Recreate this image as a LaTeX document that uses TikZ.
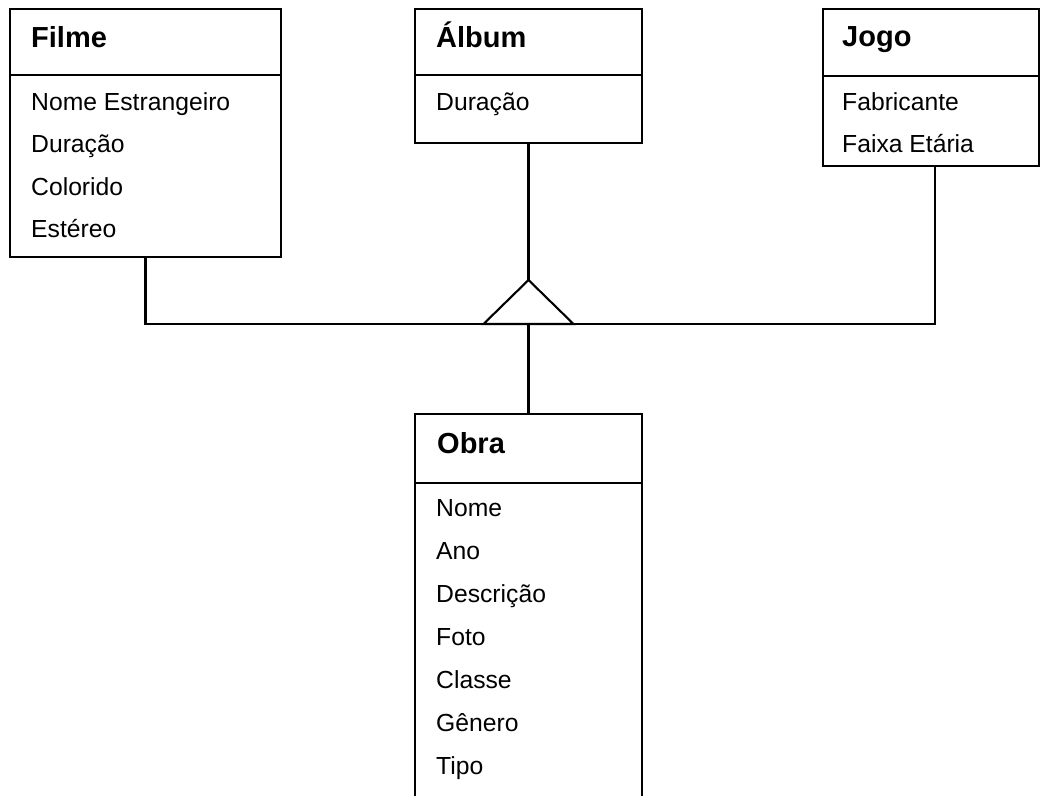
\documentclass[tikz,border=0pt]{standalone}
\usepackage{fontspec}
\setmainfont{Liberation Sans}
\begin{document}
\begin{tikzpicture}[x=1pt,y=-1pt,
  box/.style={draw, line width=2.1pt, rectangle, inner sep=0pt, outer sep=0pt, anchor=north west},
  conn/.style={line width=2.1pt},
  ttl/.style={anchor=base west, inner sep=0pt, font=\fontsize{29}{32}\selectfont\bfseries},
  attr/.style={anchor=base west, inner sep=0pt, font=\fontsize{24.7}{28}\selectfont}]
\clip (0,0) rectangle (1041,795);
\fill[white] (0,0) rectangle (1041,795);
% boxes
\node[box, minimum width=271pt, minimum height=248pt] (filme) at (10,9) {};
\node[box, minimum width=227pt, minimum height=134pt] (album) at (415,9) {};
\node[box, minimum width=216pt, minimum height=157pt] (jogo) at (823,9) {};
\node[box, minimum width=227pt, minimum height=420pt] (obra) at (415,414) {};
% separators
\draw[conn] (filme.west |- 0,75) -- (filme.east |- 0,75);
\draw[conn] (album.west |- 0,75) -- (album.east |- 0,75);
\draw[conn] (jogo.west |- 0,76) -- (jogo.east |- 0,76);
\draw[conn] (obra.west |- 0,483) -- (obra.east |- 0,483);
% titles
\node[ttl] (tfilme) at (31,47) {Filme};
\node[ttl] (talbum) at (436,47) {Álbum};
\node[ttl] (tjogo) at (842,46) {Jogo};
\node[ttl] (tobra) at (437,453) {Obra};
% attributes
\node[attr] (f1) at (31,110) {Nome Estrangeiro};
\node[attr] (f2) at (31,152) {Duração};
\node[attr] (f3) at (31,195) {Colorido};
\node[attr] (f4) at (31,237) {Estéreo};
\node[attr] (a1) at (436,110) {Duração};
\node[attr] (j1) at (842,110) {Fabricante};
\node[attr] (j2) at (842,152) {Faixa Etária};
\node[attr] (o1) at (436,516) {Nome};
\node[attr] (o2) at (436,559) {Ano};
\node[attr] (o3) at (436,602) {Descrição};
\node[attr] (o4) at (436,645) {Foto};
\node[attr] (o5) at (436,688) {Classe};
\node[attr] (o6) at (436,731) {Gênero};
\node[attr] (o7) at (436,774) {Tipo};
% inheritance triangle
\coordinate (apex) at (album.south |- 0,280);
\coordinate (bm) at (album.south |- 0,324);
\coordinate (bl) at ([xshift=-45pt]bm);
\coordinate (br) at ([xshift=45pt]bm);
\coordinate (jtop) at (935,166);
\draw[conn, line join=miter] (bl) -- (apex) -- (br) -- cycle;
% connectors
\draw[conn] (filme.south) |- (bl);
\draw[conn] (jogo.south -| jtop) |- (br);
\draw[conn] (album.south) -- (apex);
\draw[conn] (bm) -- (bm |- obra.north);
\end{tikzpicture}
\end{document}
